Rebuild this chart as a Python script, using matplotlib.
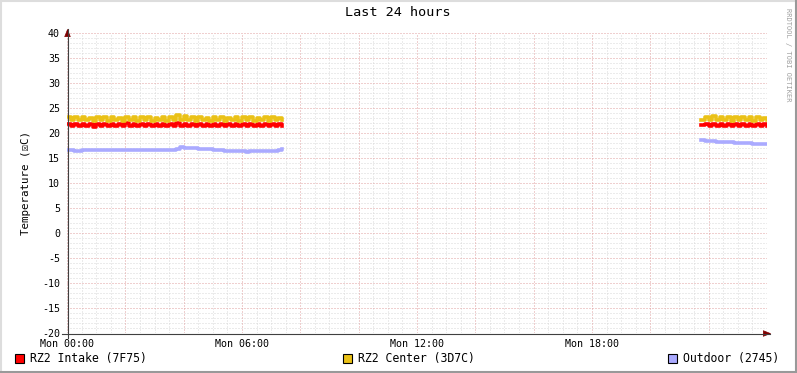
import numpy as np
import matplotlib.pyplot as plt
from matplotlib.lines import Line2D
from matplotlib.patches import Rectangle

# hours since Mon 00:00, sampled every 7.5 minutes
left_start, right_start, step = 0.0, 21.75, 0.125

intake_left = [21.9, 21.4, 21.9, 21.4, 21.9, 21.4, 21.9, 21.3, 21.9, 21.4,
               21.9, 21.4, 21.9, 21.4, 21.9, 21.4, 22.0, 21.4, 21.9, 21.4,
               21.9, 21.4, 21.9, 21.4, 21.9, 21.4, 21.9, 21.4, 21.9, 21.5,
               22.0, 21.5, 21.9, 21.4, 21.9, 21.4, 21.9, 21.4, 21.9, 21.4,
               21.9, 21.4, 21.9, 21.4, 21.9, 21.4, 21.9, 21.4, 21.9, 21.4,
               21.9, 21.4, 21.9, 21.4, 21.9, 21.4, 21.9, 21.4, 21.9, 21.5]
center_left = [23.3, 22.6, 23.2, 22.6, 23.3, 22.6, 23.1, 22.5, 23.2, 22.6,
               23.3, 22.5, 23.2, 22.6, 23.1, 22.5, 23.3, 22.6, 23.2, 22.5,
               23.2, 22.6, 23.3, 22.5, 23.1, 22.6, 23.2, 22.5, 23.2, 22.6,
               23.6, 22.7, 23.4, 22.6, 23.2, 22.5, 23.3, 22.6, 23.1, 22.5,
               23.2, 22.6, 23.3, 22.5, 23.1, 22.6, 23.2, 22.5, 23.3, 22.6,
               23.2, 22.5, 23.1, 22.6, 23.2, 22.5, 23.3, 22.6, 23.1, 22.7]
outdoor_left = [16.7, 16.6, 16.5, 16.5, 16.6, 16.6, 16.6, 16.6, 16.7, 16.7,
                16.7, 16.6, 16.6, 16.6, 16.7, 16.7, 16.6, 16.6, 16.6, 16.6,
                16.7, 16.7, 16.7, 16.7, 16.6, 16.7, 16.7, 16.7, 16.6, 16.6,
                16.9, 17.2, 17.1, 17.1, 17.0, 17.0, 16.9, 16.9, 16.8, 16.8,
                16.7, 16.6, 16.6, 16.5, 16.4, 16.4, 16.5, 16.4, 16.4, 16.3,
                16.4, 16.4, 16.4, 16.5, 16.4, 16.4, 16.5, 16.5, 16.7, 16.8]

intake_right = [21.6, 21.9, 21.4, 21.9, 21.4, 21.9, 21.4, 21.9, 21.4, 21.9,
                21.4, 21.9, 21.4, 21.9, 21.4, 21.9, 21.4, 21.9, 21.4]
center_right = [22.6, 23.3, 22.6, 23.4, 22.6, 23.2, 22.6, 23.3, 22.5, 23.2,
                22.6, 23.3, 22.6, 23.2, 22.5, 23.3, 22.6, 23.1, 22.6]
outdoor_right = [18.6, 18.5, 18.4, 18.4, 18.3, 18.3, 18.2, 18.2, 18.2, 18.1,
                 18.1, 18.0, 18.0, 18.0, 17.9, 17.9, 17.8, 17.8, 17.9]

series_names = ["RZ2 Intake (7F75)", "RZ2 Center (3D7C)", "Outdoor (2745)"]
series_colors = ["#FF0000", "#EAC117", "#AAAAFF"]
x_tick_hours = [0, 6, 12, 18]
x_tick_labels = ["Mon 00:00", "Mon 06:00", "Mon 12:00", "Mon 18:00"]

mono = ["DejaVu Sans Mono", "DejaVu Sans"]
plt.rcParams['font.family'] = mono
plt.rcParams['axes.unicode_minus'] = False

W, H = 797, 373
fig = plt.figure(figsize=(W / 100, H / 100), dpi=100, facecolor="white")
ax = fig.add_axes([67 / W, 1 - 333 / H, 700 / W, 300 / H])
ax.set_facecolor("white")
ax.set_xlim(0, 24)
ax.set_ylim(-20, 40)
for s in ax.spines.values():
    s.set_visible(False)
ax.tick_params(length=0, labelsize=7.2, colors="black")

# grid (rrdtool style dotted)
dot = (0, (1, 2))
for v in np.arange(-20, 41, 1):
    if v % 5:
        ax.axhline(v, color="#D8D8D8", lw=0.72, ls=dot, zorder=0)
for v in np.arange(0, 24.01, 0.5):
    if v % 2:
        ax.axvline(v, color="#D8D8D8", lw=0.72, ls=dot, zorder=0)
for v in np.arange(-20, 41, 5):
    ax.axhline(v, color="#E0A0A0", lw=0.72, ls=dot, zorder=0.5)
for v in np.arange(0, 24.01, 2):
    ax.axvline(v, color="#E0A0A0", lw=0.72, ls=dot, zorder=0.5)

ax.set_yticks(np.arange(-20, 41, 5))
ax.set_xticks(x_tick_hours)
ax.set_xticklabels(x_tick_labels)
ax.tick_params(axis="x", pad=4)
ax.tick_params(axis="y", pad=5)
ax.set_ylabel("Temperature (\u2612C)", fontsize=7.8, labelpad=8, family=mono)

t_left = left_start + step * np.arange(len(intake_left))
t_right = right_start + step * np.arange(len(intake_right))
data = [(intake_left, intake_right), (center_left, center_right), (outdoor_left, outdoor_right)]
for (yl, yr), c in zip(data, series_colors):
    ax.plot(t_left, yl, color=c, lw=2.6, drawstyle="steps-post", zorder=3)
    ax.plot(t_right, yr, color=c, lw=2.6, drawstyle="steps-post", zorder=3)

# axes with arrows
axis_col = "#404040"
fig.add_artist(Line2D([62 / W, 770 / W], [1 - 333.5 / H] * 2, color=axis_col, lw=0.8))
fig.add_artist(Line2D([67.5 / W] * 2, [1 - 338 / H, 1 - 29 / H], color=axis_col, lw=0.8))
ax.annotate("", xy=(774 / W, 1 - 333.5 / H), xytext=(766 / W, 1 - 333.5 / H),
            xycoords="figure fraction",
            arrowprops=dict(arrowstyle="-|>,head_length=0.5,head_width=0.2", color="#800000", lw=0.5))
ax.annotate("", xy=(67.5 / W, 1 - 26 / H), xytext=(67.5 / W, 1 - 34 / H),
            xycoords="figure fraction",
            arrowprops=dict(arrowstyle="-|>,head_length=0.5,head_width=0.2", color="#800000", lw=0.5))

fig.text(398 / W, 1 - 13 / H, "Last 24 hours", ha="center", va="center", fontsize=9.7)
fig.text(788 / W, 1 - 8 / H, "RRDTOOL / TOBI OETIKER", rotation=270, ha="center", va="top",
         fontsize=5.0, color="#A0A0A0")

# legend
legend_x = [15, 343, 668]
for x0, name, c in zip(legend_x, series_names, series_colors):
    fig.add_artist(Rectangle((x0 / W, 1 - 363 / H), 9 / W, 9 / H, facecolor=c,
                             edgecolor="black", lw=0.8))
    fig.text((x0 + 15) / W, 1 - 358.5 / H, name, ha="left", va="center", fontsize=8.3)

# rrdtool 3d border
fig.add_artist(Line2D([0, 1], [1 - 0.5 / H] * 2, color="#DDDDDD", lw=1.5))
fig.add_artist(Line2D([0.5 / W] * 2, [0, 1], color="#DDDDDD", lw=1.5))
fig.add_artist(Line2D([0, 1], [1 / H] * 2, color="#999999", lw=1.5))
fig.add_artist(Line2D([1 - 1 / W] * 2, [0, 1], color="#999999", lw=1.5))

fig.savefig("out.png", dpi=100, facecolor="white")
